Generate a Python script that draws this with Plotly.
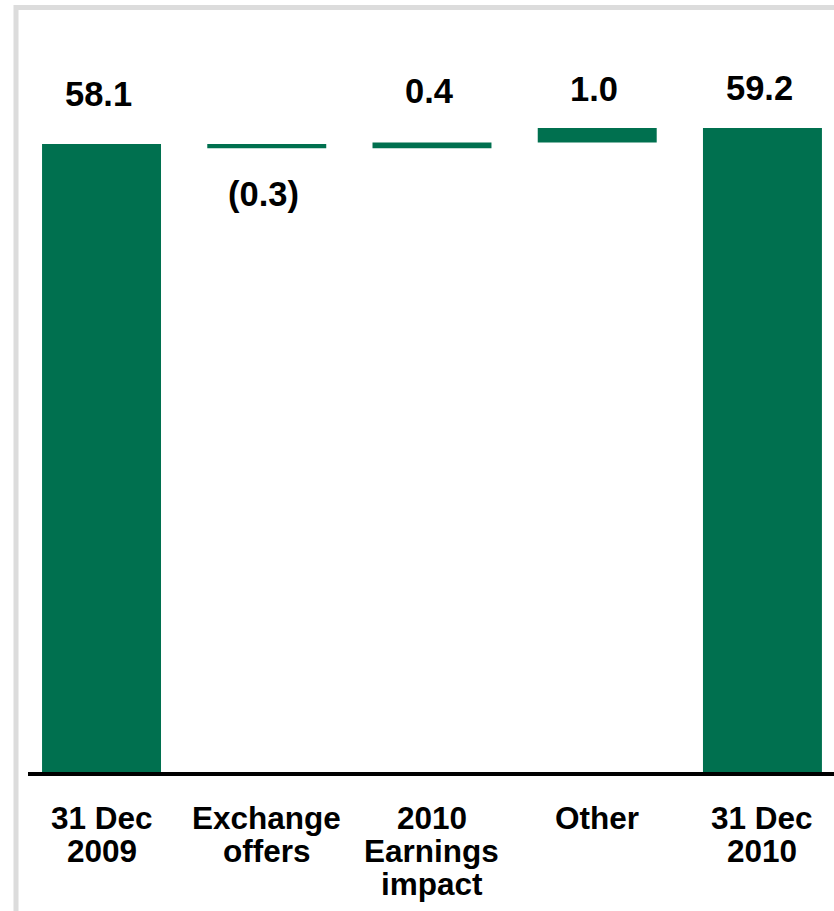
import plotly.graph_objects as go

# Net asset bridge, 31 Dec 2009 -> 31 Dec 2010
categories = ["31 Dec 2009", "Exchange offers", "2010 Earnings impact", "Other", "31 Dec 2010"]
category_lines = [["31 Dec", "2009"], ["Exchange", "offers"], ["2010", "Earnings", "impact"],
                  ["Other"], ["31 Dec", "2010"]]
measures = ["absolute", "relative", "relative", "relative", "total"]
values = [58.1, -0.3, 0.4, 1.0, 59.2]
value_labels = ["58.1", "(0.3)", "0.4", "1.0", "59.2"]

# Vertical gap (px) between each bar end and its value label
label_gap_px = [29, 25, 31, 18, 19]

GREEN = "#00704F"
FONT = "Liberation Sans, Arial, sans-serif"

W, H = 834, 911
M_L, M_R, M_T, M_B = 28, 0, 10, 139
plot_w = W - M_L - M_R
plot_h = H - M_T - M_B


def px_x(px):
    return (px - M_L) / plot_w


def px_y(py):
    return (H - M_B - py) / plot_h


fig = go.Figure(
    go.Waterfall(
        x=categories,
        y=[v if m != "total" else 0 for v, m in zip(values, measures)],
        measure=measures,
        width=0.72,
        increasing=dict(marker=dict(color=GREEN)),
        decreasing=dict(marker=dict(color=GREEN)),
        totals=dict(marker=dict(color=GREEN)),
        connector=dict(visible=False),
        hoverinfo="skip",
    )
)

# Value labels: above rising/total bars, below falling bars
running = 0.0
for cat, v, m, lab, gap in zip(categories, values, measures, value_labels, label_gap_px):
    if m in ("absolute", "total"):
        start, end = 0.0, v
        running = v
    else:
        start, end = running, running + v
        running = end
    if v >= 0:
        fig.add_annotation(x=cat, y=max(start, end), text=lab, showarrow=False,
                           yanchor="bottom", yshift=gap, xshift=-3,
                           font=dict(family=FONT, size=34.5, color="black", weight="bold"))
    else:
        fig.add_annotation(x=cat, y=min(start, end), text=lab, showarrow=False,
                           yanchor="top", yshift=-gap, xshift=-3,
                           font=dict(family=FONT, size=34.5, color="black", weight="bold"))

# Category labels under the baseline, one line at a time for tight leading
LINE1_MID, LINE_STEP = 818, 33
for cat, lines in zip(categories, category_lines):
    for i, line in enumerate(lines):
        fig.add_annotation(x=cat, xref="x", yref="paper",
                           y=px_y(LINE1_MID + i * LINE_STEP), yanchor="middle",
                           text=line, showarrow=False,
                           font=dict(family=FONT, size=31.5, color="black", weight="bold"))

# Light grey frame and heavy baseline
fig.add_shape(type="rect", xref="paper", yref="paper",
              x0=px_x(16), x1=px_x(W + 20), y0=px_y(H + 20), y1=px_y(7.5),
              line=dict(color="#DCDCDC", width=5), layer="below")
fig.add_shape(type="line", xref="paper", yref="paper",
              x0=0, x1=1, y0=px_y(774), y1=px_y(774),
              line=dict(color="black", width=4))

fig.update_layout(
    width=W, height=H,
    margin=dict(l=M_L, r=M_R, t=M_T, b=M_B, pad=0),
    paper_bgcolor="white", plot_bgcolor="white",
    showlegend=False,
    font=dict(family=FONT, color="black"),
    xaxis=dict(range=[-0.445, 4.433], showgrid=False, zeroline=False, showline=False,
               ticks="", showticklabels=False),
    yaxis=dict(range=[14.79, 67.34], visible=False, showgrid=False, zeroline=False),
)

fig.write_html("out.html")
